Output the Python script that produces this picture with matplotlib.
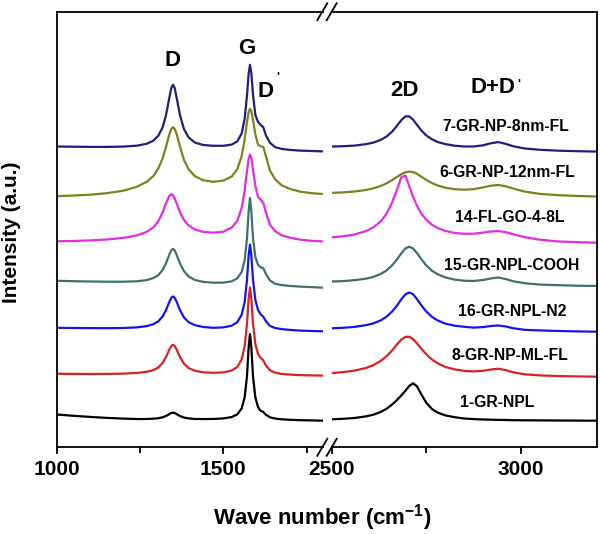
import matplotlib
matplotlib.use("Agg")
import matplotlib.pyplot as plt
from matplotlib.lines import Line2D

plt.rcParams['font.family'] = ['Liberation Sans', 'DejaVu Sans']
plt.rcParams['font.weight'] = 'bold'
plt.rcParams['mathtext.fontset'] = 'custom'
plt.rcParams['mathtext.rm'] = 'Liberation Sans:bold'
plt.rcParams['mathtext.bf'] = 'Liberation Sans:bold'
plt.rcParams['mathtext.default'] = 'bf'

# ---------------- data ----------------
x_left = [1000, 1050, 1100, 1150, 1200, 1240, 1270, 1290, 1305, 1318, 1328, 1337, 1344, 1349,
          1354, 1361, 1370, 1382, 1396, 1415, 1440, 1470, 1500, 1525, 1542, 1555, 1564, 1571,
          1576, 1580, 1584, 1589, 1596, 1604, 1612, 1620, 1628, 1640, 1655, 1675, 1700, 1730,
          1765, 1800]
x_right = [2500, 2530, 2560, 2590, 2610, 2630, 2645, 2660, 2672, 2684, 2695, 2705, 2715, 2725,
           2737, 2750, 2765, 2780, 2800, 2825, 2850, 2875, 2900, 2920, 2940, 2960, 2980, 3010,
           3050, 3100, 3150, 3200]

samples = ["7-GR-NP-8nm-FL", "6-GR-NP-12nm-FL", "14-FL-GO-4-8L", "15-GR-NPL-COOH",
           "16-GR-NPL-N2", "8-GR-NP-ML-FL", "1-GR-NPL"]
offsets = [300.5, 250.6, 205.6, 166.3, 119.3, 73.3, 32.3]

left_7 = [0.3, 0.1, -0.1, -0.1, 0.2, 1.1, 3.0, 6.1, 11.1, 19.6, 31.6, 47.4, 59.0, 62.0, 58.9,
          47.3, 31.5, 17.6, 9.3, 4.2, 1.8, 1.0, 1.0, 2.2, 5.4, 13.3, 28.0, 51.3, 73.3, 82.0,
          74.0, 52.1, 32.0, 25.0, 22.0, 19.5, 11.3, 4.0, -0.3, -2.1, -3.1, -3.8, -4.2, -4.6]
left_6 = [0.5, 1.2, 2.0, 3.5, 6.0, 9.9, 14.9, 20.6, 28.4, 38.4, 49.7, 61.2, 67.9, 69.5, 67.9,
          61.3, 49.9, 36.8, 27.3, 20.4, 16.4, 14.9, 16.1, 20.1, 27.6, 40.6, 57.5, 74.5, 84.6,
          87.9, 85.6, 77.0, 62.6, 52.2, 50.3, 49.7, 40.3, 26.1, 17.5, 11.4, 7.8, 5.1, 3.5, 2.7]
left_14 = [0.4, 0.7, 1.3, 2.2, 3.8, 6.3, 9.8, 14.3, 20.5, 29.4, 38.2, 45.3, 47.5, 46.4, 43.3,
           37.3, 29.6, 21.7, 16.2, 12.2, 9.8, 9.0, 10.0, 14.1, 20.9, 33.6, 51.1, 70.6, 83.0,
           87.1, 83.6, 72.1, 56.0, 45.0, 42.0, 38.5, 29.0, 17.0, 10.7, 6.4, 4.0, 2.1, 0.9, 0.2]
left_15 = [0.2, -0.2, -0.5, -0.7, -0.7, -0.3, 0.9, 3.0, 5.9, 11.1, 17.7, 25.6, 30.8, 32.1, 30.7,
           25.3, 17.5, 9.7, 4.5, 1.0, -0.9, -1.7, -1.6, -0.4, 2.7, 9.0, 20.6, 42.5, 69.8, 83.0,
           70.0, 43.0, 24.2, 16.2, 13.7, 12.7, 7.0, 0.5, -2.7, -4.1, -4.9, -5.6, -6.1, -6.7]
left_16 = [0.2, 0.0, -0.1, -0.2, 0.0, 0.6, 1.9, 3.8, 6.7, 11.6, 17.9, 25.4, 30.2, 31.6, 30.3,
           25.3, 17.8, 10.5, 5.8, 2.8, 1.0, 0.2, 0.6, 2.3, 5.9, 13.2, 26.0, 48.2, 72.6, 83.4,
           72.8, 48.7, 28.2, 18.2, 13.7, 11.2, 6.7, 2.1, 0.0, -1.1, -1.9, -2.6, -3.0, -3.3]
left_8 = [0.2, 0.1, 0.0, 0.1, 0.4, 1.0, 2.2, 3.9, 6.6, 11.2, 16.9, 23.7, 28.1, 29.3, 28.1,
          23.7, 16.9, 10.3, 5.9, 3.2, 1.7, 1.2, 1.6, 3.4, 7.1, 14.5, 27.6, 50.3, 75.4, 86.5,
          75.6, 50.8, 30.1, 20.1, 16.1, 13.6, 8.5, 3.7, 1.4, 0.1, -0.6, -1.1, -1.4, -1.6]
left_1 = [0.5, -0.8, -1.9, -2.9, -3.6, -4.0, -4.0, -3.7, -3.2, -2.3, -1.0, 0.7, 2.0, 2.3, 2.0,
          0.7, -1.1, -2.6, -3.4, -4.0, -4.0, -4.0, -3.4, -2.1, 0.7, 6.6, 17.7, 38.7, 68.0, 81.0,
          68.0, 38.8, 17.9, 8.0, 4.2, 3.0, 0.2, -2.3, -3.5, -4.3, -4.8, -5.2, -5.4, -5.7]

right_7 = [0.2, 0.6, 1.2, 2.6, 4.2, 7.0, 10.3, 15.3, 20.9, 26.7, 30.5, 30.4, 27.1, 22.1, 16.3,
           11.3, 7.5, 4.8, 2.7, 1.1, 0.3, 0.3, 1.5, 3.5, 4.7, 2.9, 0.5, -1.7, -3.0, -3.9, -4.4, -4.8]
right_6 = [3.8, 4.3, 5.2, 6.7, 8.3, 10.8, 13.4, 16.7, 19.7, 22.5, 24.5, 25.1, 24.6, 22.9, 20.0,
           16.8, 13.6, 11.2, 9.0, 7.5, 7.0, 7.6, 9.3, 11.0, 11.7, 10.4, 8.1, 5.1, 2.8, 1.5, 0.7, 0.2]
right_14 = [4.4, 5.4, 7.2, 10.5, 14.3, 20.4, 28.1, 39.5, 51.6, 64.5, 66.0, 55.2, 45.0, 36.1, 28.0,
            21.9, 16.9, 13.6, 10.8, 8.7, 7.9, 8.0, 9.0, 10.2, 10.6, 9.5, 7.3, 4.5, 2.0, 0.2, -0.5, -1.0]
right_15 = [-0.5, -0.1, 0.8, 2.3, 4.1, 7.1, 10.6, 15.8, 21.4, 27.7, 32.6, 34.3, 32.5, 28.1, 21.7,
            15.5, 10.2, 6.7, 3.6, 1.4, 0.3, 0.0, 1.0, 2.5, 3.5, 1.9, -0.3, -2.2, -3.6, -4.2, -4.7, -5.0]
right_16 = [-0.3, 0.2, 1.1, 2.8, 4.6, 7.7, 11.3, 16.6, 22.2, 28.7, 33.7, 35.5, 33.7, 29.1, 22.6,
            16.4, 11.1, 7.5, 4.4, 2.3, 1.2, 0.4, 0.9, 2.0, 2.5, 1.5, -0.3, -1.8, -2.4, -3.0, -3.4, -3.7]
right_8 = [0.9, 1.9, 3.4, 5.9, 8.8, 13.2, 17.8, 23.7, 29.4, 34.4, 37.2, 37.2, 34.8, 30.7, 25.2,
           19.6, 14.4, 10.7, 7.1, 4.6, 3.1, 2.6, 3.2, 4.4, 5.3, 3.8, 1.6, -0.3, -1.4, -2.1, -2.4, -2.7]
right_1 = [-4.3, -3.8, -3.0, -1.4, 0.3, 3.1, 6.3, 10.6, 14.8, 19.6, 24.4, 29.1, 31.7, 28.8, 20.5,
           12.2, 5.9, 2.4, -0.4, -2.2, -3.5, -4.1, -4.5, -4.7, -4.9, -5.0, -5.2, -5.3, -5.4, -5.5,
           -5.6, -5.7]

left_series = [left_7, left_6, left_14, left_15, left_16, left_8, left_1]
right_series = [right_7, right_6, right_14, right_15, right_16, right_8, right_1]

colors = ["#1f1f7c", "#80801e", "#e22be2", "#3f7070", "#1414f0", "#d62222", "#000000"]

# ---------------- figure ----------------
W, H = 600, 534
fig = plt.figure(figsize=(W / 100, H / 100), dpi=100)


def fx(px):
    return px / W


def fy(py):
    return 1 - py / H


L, R1, L2, R = 56.7, 323.3, 331.7, 596.7
T, B = 11.7, 447.3
ax1 = fig.add_axes([fx(L), fy(B), fx(R1) - fx(L), fy(T) - fy(B)])
ax2 = fig.add_axes([fx(L2), fy(B), fx(R) - fx(L2), fy(T) - fy(B)])

for ys_l, ys_r, off, c in zip(left_series, right_series, offsets, colors):
    ax1.plot(x_left, [off + v for v in ys_l], color=c, lw=1.6)
    ax2.plot(x_right, [off + v for v in ys_r], color=c, lw=1.6)

for ax in (ax1, ax2):
    ax.set_ylim(0, B - T)
    ax.set_yticks([])
    for s in ax.spines.values():
        s.set_linewidth(1.3)
    ax.tick_params(axis='x', which='major', direction='out', length=5, width=1.3,
                   labelsize=15, pad=4)
    ax.tick_params(axis='x', which='minor', direction='out', length=4, width=1.3)

ax1.set_xlim(1000, 1800)
ax2.set_xlim(2500, 3200)
ax1.spines['right'].set_visible(False)
ax2.spines['left'].set_visible(False)
ax1.set_xticks([1000, 1500])
ax1.set_xticks([1250, 1750], minor=True)
ax2.set_xticks([2500, 3000])
ax2.set_xticks([2750], minor=True)

# break marks
for xc in (R1 - 1, L2):
    for yc in (T, B):
        fig.add_artist(Line2D([fx(xc - 5), fx(xc + 5)], [fy(yc + 8.5), fy(yc - 8.5)],
                              transform=fig.transFigure, color='black', lw=1.3))

# band labels
ax1.text(1346, 387, "D", fontsize=16, ha='center', va='center')
ax1.text(1570, 399, "G", fontsize=16, ha='center', va='center')
ax1.text(1628, 356, "D", fontsize=16, ha='center', va='center')
ax1.text(1662, 369, "'", fontsize=9, ha='center', va='center')
ax2.text(2693, 357, "2D", fontsize=16, ha='center', va='center')
ax2.text(2925, 360, "D+D", fontsize=16, ha='center', va='center')
ax2.text(2994, 362, "'", fontsize=9, ha='center', va='center')

# sample labels
label_x = [2961, 2964, 2969, 2976, 2976, 2971, 2936]
label_y = [320.6, 274.3, 229.3, 182.3, 135.6, 92.3, 44.6]
for name, lx, ly in zip(samples, label_x, label_y):
    ax2.text(lx, ly, name, fontsize=11.3, ha='center', va='center')

fig.text(fx(11.7), fy(232), "Intensity (a.u.)", rotation=90, fontsize=15,
         ha='center', va='center')
fig.text(fx(322), fy(518), "Wave number (cm$^{-1}$)", fontsize=16, ha='center', va='center')

fig.savefig("out.png", dpi=100)
